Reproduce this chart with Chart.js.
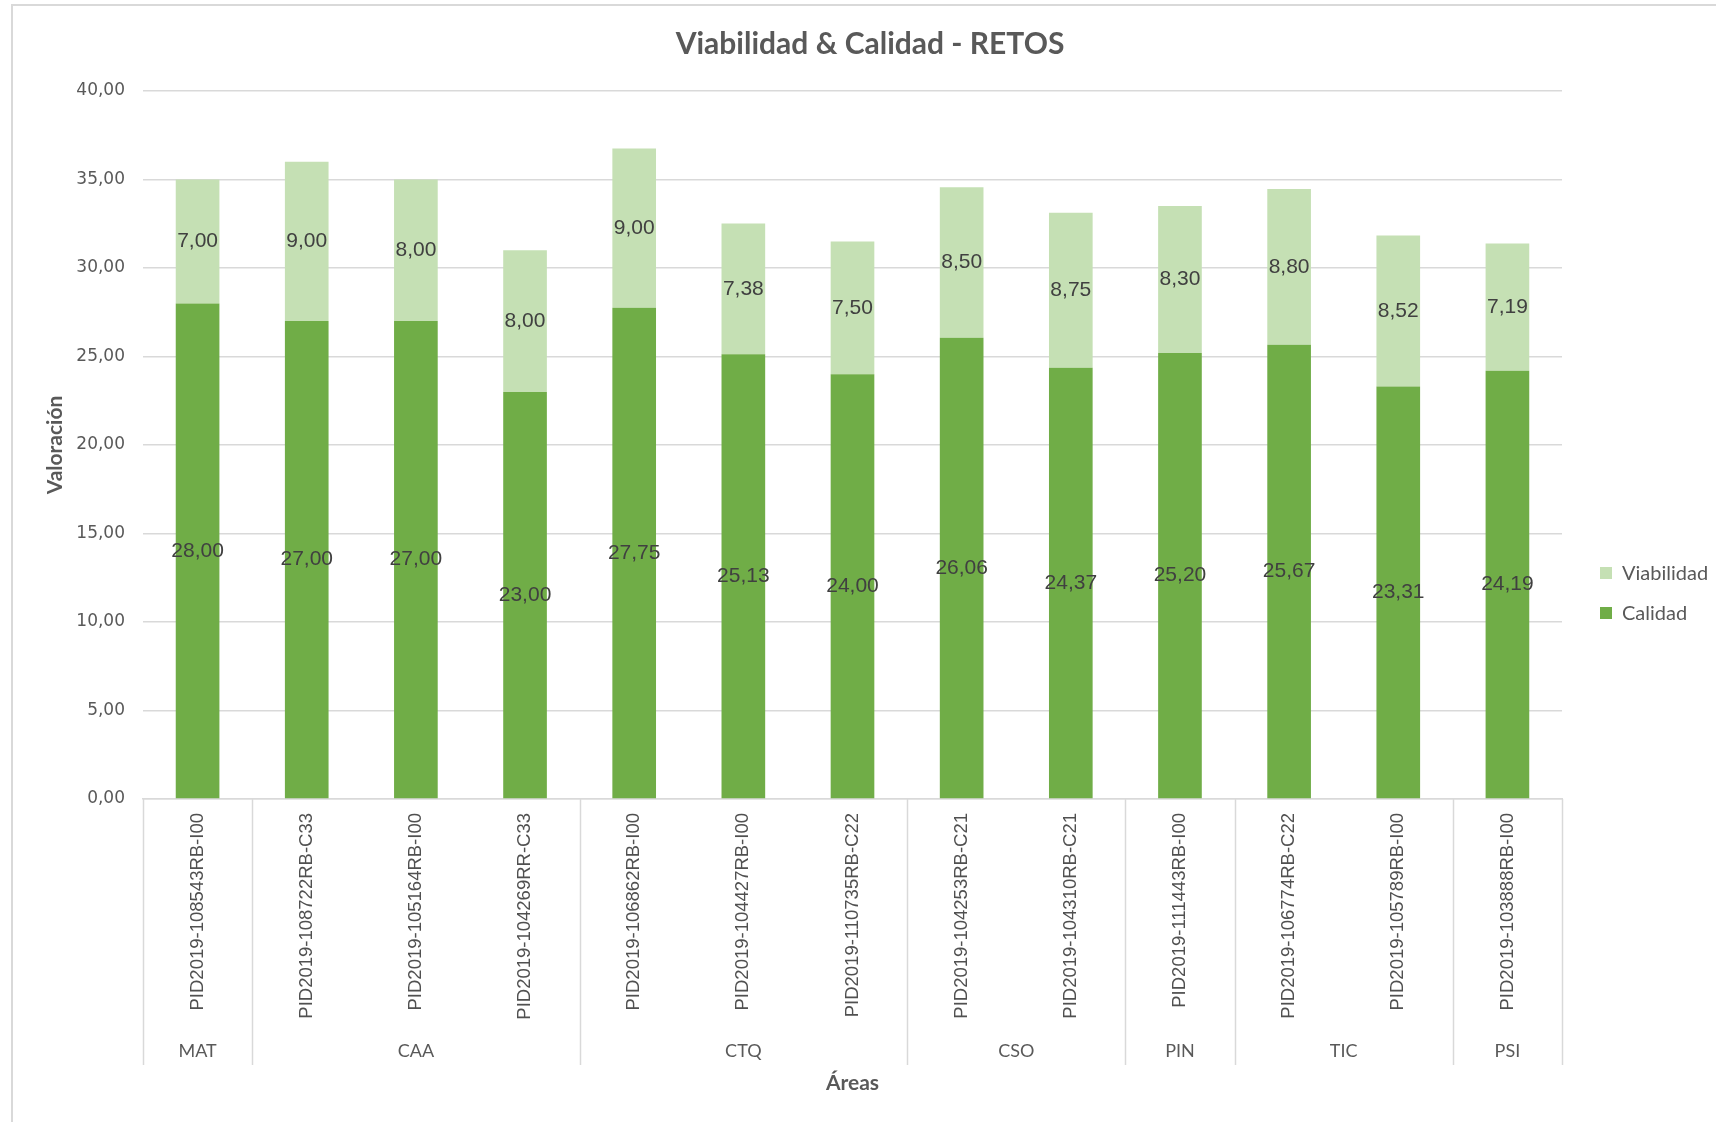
<!DOCTYPE html>
<html>
<head>
<meta charset="utf-8">
<script src="https://cdn.jsdelivr.net/npm/chart.js@4.4.1/dist/chart.umd.min.js"></script>
<style>
  html, body { margin: 0; padding: 0; background: #ffffff; }
  #wrap { width: 1716px; height: 1122px; position: relative; }
  canvas { display: block; }
</style>
</head>
<body>
<div id="wrap"><canvas id="chart" width="1716" height="1122"></canvas></div>
<script>
// ---- Data ----
const categories = [
  'PID2019-108543RB-I00',
  'PID2019-108722RB-C33',
  'PID2019-105164RB-I00',
  'PID2019-104269RR-C33',
  'PID2019-106862RB-I00',
  'PID2019-104427RB-I00',
  'PID2019-110735RB-C22',
  'PID2019-104253RB-C21',
  'PID2019-104310RB-C21',
  'PID2019-111443RB-I00',
  'PID2019-106774RB-C22',
  'PID2019-105789RB-I00',
  'PID2019-103888RB-I00'
];
const areas = ['MAT', 'CAA', 'CAA', 'CAA', 'CTQ', 'CTQ', 'CTQ', 'CSO', 'CSO', 'PIN', 'TIC', 'TIC', 'PSI'];
const calidad = [28.00, 27.00, 27.00, 23.00, 27.75, 25.13, 24.00, 26.06, 24.37, 25.20, 25.67, 23.31, 24.19];
const viabilidad = [7.00, 9.00, 8.00, 8.00, 9.00, 7.38, 7.50, 8.50, 8.75, 8.30, 8.80, 8.52, 7.19];
const yMin = 0;
const yMax = 40;
const yStep = 5;
const titleText = 'Viabilidad & Calidad - RETOS';
const yTitle = 'Valoración';
const xTitle = 'Áreas';

// ---- Styles ----
const COL_CAL = '#70AD47';
const COL_VIA = '#C5E0B4';
const GRID = '#D9D9D9';
const TXT = '#595959';
const LBL = '#404040';

const fmt = v => v.toFixed(2).replace('.', ',');

const decor = {
  id: 'decor',
  beforeDraw(chart) {
    const ctx = chart.ctx;
    ctx.save();
    ctx.fillStyle = '#ffffff';
    ctx.fillRect(0, 0, chart.width, chart.height);
    ctx.strokeStyle = GRID;
    ctx.lineWidth = 2;
    ctx.beginPath();
    ctx.moveTo(12, chart.height);
    ctx.lineTo(12, 5);
    ctx.lineTo(chart.width, 5);
    ctx.stroke();
    // title
    ctx.font = 'bold 30px Lato, sans-serif';
    ctx.fillStyle = TXT;
    ctx.textAlign = 'center';
    ctx.textBaseline = 'middle';
    ctx.fillText(titleText, 870, 44);
    ctx.restore();
  },
  afterDatasetsDraw(chart) {
    const ctx = chart.ctx;
    ctx.save();
    ctx.font = '21px "Liberation Sans Narrow", "Liberation Sans", sans-serif';
    ctx.fillStyle = LBL;
    ctx.textAlign = 'center';
    ctx.textBaseline = 'middle';
    chart.data.datasets.forEach((ds, di) => {
      const meta = chart.getDatasetMeta(di);
      meta.data.forEach((el, i) => {
        const y = (el.y + el.base) / 2;
        ctx.fillText(fmt(ds.data[i]), el.x, y);
      });
    });
    ctx.restore();
  },
  afterDraw(chart) {
    const ctx = chart.ctx;
    const xs = chart.scales.x;
    const ca = chart.chartArea;
    // group boundaries
    const groups = [];
    areas.forEach((a, i) => {
      if (!groups.length || groups[groups.length - 1].name !== a) groups.push({ name: a, start: i, end: i });
      else groups[groups.length - 1].end = i;
    });
    const edge = i => {
      if (i <= 0) return xs.left;
      if (i >= categories.length) return xs.right;
      return (xs.getPixelForValue(i - 1) + xs.getPixelForValue(i)) / 2;
    };
    ctx.save();
    ctx.strokeStyle = GRID;
    ctx.lineWidth = 1.5;
    const yTop = ca.bottom;
    const yBot = 1065;
    const bset = new Set();
    groups.forEach(g => { bset.add(g.start); bset.add(g.end + 1); });
    bset.forEach(b => {
      const x = Math.round(edge(b)) + 0.5;
      ctx.beginPath();
      ctx.moveTo(x, yTop);
      ctx.lineTo(x, yBot);
      ctx.stroke();
    });
    ctx.font = '18px Lato, sans-serif';
    ctx.fillStyle = TXT;
    ctx.textAlign = 'center';
    ctx.textBaseline = 'middle';
    groups.forEach(g => {
      const cx = (edge(g.start) + edge(g.end + 1)) / 2;
      ctx.fillText(g.name, cx, 1051);
    });
    // legend (reverse order like stacked Excel legend)
    const items = [
      { label: chart.data.datasets[1].label, color: chart.data.datasets[1].backgroundColor, y: 573 },
      { label: chart.data.datasets[0].label, color: chart.data.datasets[0].backgroundColor, y: 613 }
    ];
    ctx.font = '20px Lato, sans-serif';
    ctx.textAlign = 'left';
    items.forEach(it => {
      ctx.fillStyle = it.color;
      ctx.fillRect(1600, it.y - 6, 12, 12);
      ctx.fillStyle = TXT;
      ctx.fillText(it.label, 1622, it.y + 1);
    });
    ctx.restore();
  }
};

new Chart(document.getElementById('chart'), {
  type: 'bar',
  data: {
    labels: categories,
    datasets: [
      { label: 'Calidad', data: calidad, backgroundColor: COL_CAL, barPercentage: 0.4, categoryPercentage: 1.0 },
      { label: 'Viabilidad', data: viabilidad, backgroundColor: COL_VIA, barPercentage: 0.4, categoryPercentage: 1.0 }
    ]
  },
  options: {
    responsive: false,
    animation: false,
    devicePixelRatio: 1,
    layout: { padding: { left: 0, right: 154, top: 91, bottom: 0 } },
    plugins: {
      legend: { display: false },
      tooltip: { enabled: false },
      title: { display: false }
    },
    scales: {
      x: {
        stacked: true,
        grid: { display: false, drawTicks: false },
        border: { display: true, color: GRID, width: 1.5 },
        ticks: {
          autoSkip: false,
          maxRotation: 90,
          minRotation: 90,
          padding: 14,
          color: '#505050',
          font: { family: '"Liberation Sans", Arial, sans-serif', size: 18.5 }
        },
        title: {
          display: true,
          text: xTitle,
          color: TXT,
          font: { family: 'Lato', size: 21, weight: 'bold', lineHeight: 1.2 },
          padding: { top: 0, bottom: 26.4 }
        },
        afterFit(scale) { scale.height = 323; }
      },
      y: {
        stacked: true,
        min: yMin,
        max: yMax,
        ticks: {
          stepSize: yStep,
          padding: 18,
          color: TXT,
          font: { family: '"DejaVu Sans", sans-serif', size: 17 },
          callback: v => fmt(v)
        },
        grid: { color: GRID, lineWidth: 1.5, drawTicks: false },
        border: { display: false },
        title: {
          display: true,
          text: yTitle,
          color: TXT,
          font: { family: 'Lato', size: 21, weight: 'bold', lineHeight: 1.2 },
          padding: { top: 42.4, bottom: 0 }
        },
        afterFit(scale) { scale.width = 143; }
      }
    }
  },
  plugins: [decor]
});
</script>
</body>
</html>
